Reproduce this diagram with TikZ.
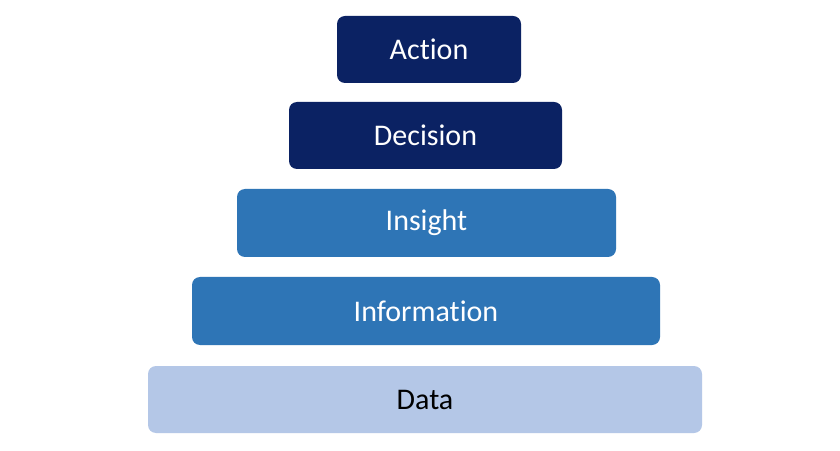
\documentclass[tikz,border=0pt]{standalone}
\usepackage{fontspec}
\setmainfont[Ligatures={NoCommon}]{Carlito}
\definecolor{navy}{HTML}{0B2263}
\definecolor{midblue}{HTML}{2E75B6}
\definecolor{lightblue}{HTML}{B4C7E7}
\begin{document}
\begin{tikzpicture}[x=1pt,y=1pt,
  tier/.style={rounded corners=8pt, minimum height=67pt, inner sep=0pt, font=\fontsize{30}{33}\selectfont},
  dark/.style={tier, fill=navy, text=white},
  mid/.style={tier, fill=midblue, text=white},
  light/.style={tier, fill=lightblue, text=black}]
\useasboundingbox[fill=white] (0,0) rectangle (840,450);
\node[dark, minimum width=184pt] (action) at (429,400.5) {Action};
\node[dark, minimum width=273pt] (decision) at (425.5,314.5) {Decision};
\node[mid, minimum width=379pt, minimum height=68pt] (insight) at (426.5,227) {Insight};
\node[mid, minimum width=468pt, minimum height=68pt] (information) at (426,139) {Information};
\node[light, minimum width=554pt] (data) at (425,50.5) {Data};
\end{tikzpicture}
\end{document}
